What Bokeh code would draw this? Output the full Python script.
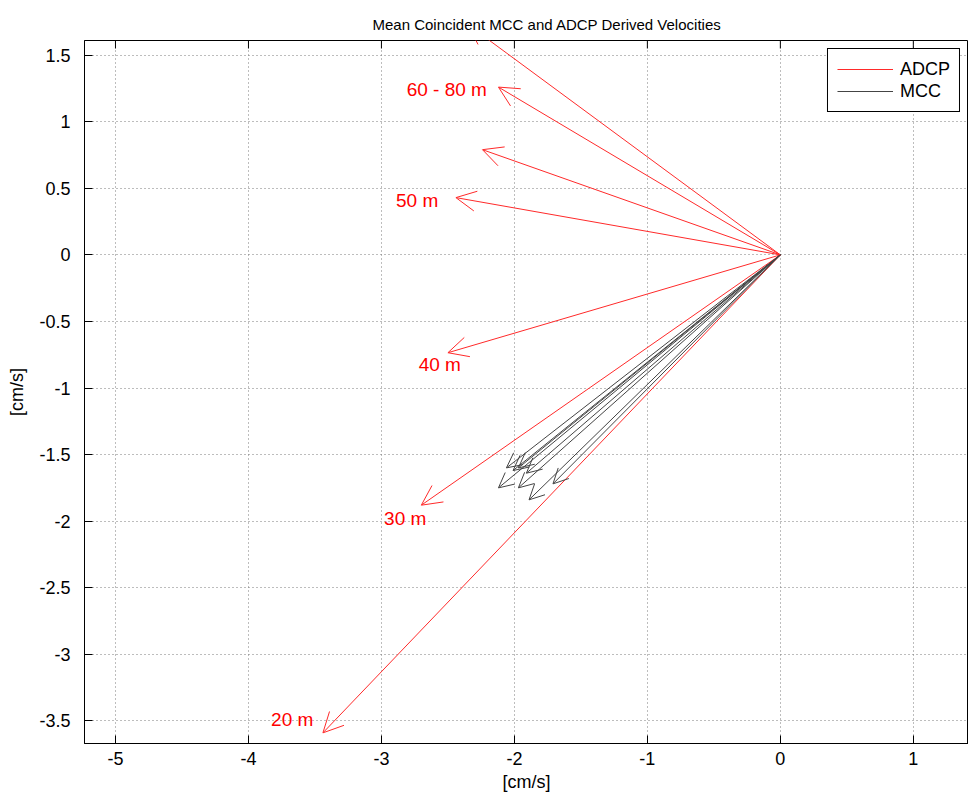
import numpy as np
from bokeh.plotting import figure
from bokeh.models import (Arrow, OpenHead, ColumnDataSource, Range1d, FixedTicker,
                          Legend, LegendItem, Title)
from bokeh.core.properties import value
from bokeh.embed import file_html
from bokeh.resources import INLINE

# ---------------- data ----------------
adcp_depth = ["20 m", "30 m", "40 m", "50 m", "60 m", "70 m", "80 m"]
adcp_u = [-3.44, -2.70, -2.50, -2.44, -2.24, -2.12, -2.35]
adcp_v = [-3.59, -1.88, -0.735, 0.43, 0.79, 1.26, 1.73]

mcc_u = [-2.06, -1.97, -1.91, -2.12, -1.97, -1.89, -1.71, -2.01]
mcc_v = [-1.60, -1.60, -1.64, -1.75, -1.75, -1.84, -1.72, -1.62]

label_text = ["20 m", "30 m", "40 m", "50 m", "60 - 80 m"]
label_x = [-3.83, -2.98, -2.72, -2.89, -2.81]
label_y = [-3.49, -1.98, -0.825, 0.41, 1.245]

x_ticks = [-5, -4, -3, -2, -1, 0, 1]
y_ticks = [-3.5, -3, -2.5, -2, -1.5, -1, -0.5, 0, 0.5, 1, 1.5]

x_lim = (-5.233, 1.415)
y_lim = (-3.67, 1.61)

FONT = "Liberation Sans"
RED = "#ff2a2a"

p = figure(width=968, height=794, output_backend="svg", toolbar_location=None,
           x_range=Range1d(*x_lim), y_range=Range1d(*y_lim),
           min_border_left=84, min_border_right=0, min_border_top=40, min_border_bottom=49)
p.title = Title(text="Mean Coincident MCC and ADCP Derived Velocities", align="left",
                offset=288, text_font=FONT, text_font_size="15px",
                text_font_style="normal", text_color="black",
                vertical_align="top", text_line_height=1.0, standoff=12)
p.background_fill_color = "white"
p.border_fill_color = "white"
p.outline_line_color = "black"
p.outline_line_width = 1

for ax, ticks in ((p.xaxis[0], x_ticks), (p.yaxis[0], y_ticks)):
    ax.ticker = FixedTicker(ticks=ticks)
    ax.major_label_overrides = {float(t): ("%g" % t) for t in ticks}
    ax.major_tick_in = 8
    ax.major_tick_out = 0
    ax.minor_tick_line_color = None
    ax.axis_line_color = "black"
    ax.major_tick_line_color = "black"
    ax.major_label_text_font = FONT
    ax.major_label_text_font_size = "18px"
    ax.major_label_text_color = "black"
    ax.axis_label = "[cm/s]"
    ax.axis_label_text_font = FONT
    ax.axis_label_text_font_size = "18px"
    ax.axis_label_text_font_style = "normal"
    ax.axis_label_text_color = "black"

p.xaxis[0].major_label_standoff = 8
p.xaxis[0].axis_label_standoff = 4
p.yaxis[0].major_label_standoff = 14
p.yaxis[0].axis_label_standoff = 9

for g, ticks in ((p.xgrid[0], x_ticks), (p.ygrid[0], y_ticks)):
    g.ticker = FixedTicker(ticks=ticks)
    g.grid_line_color = "#7a7a7a"
    g.grid_line_dash = "1 3"
    g.grid_line_alpha = 1.0

# inward tick marks on the top edge of the box
p.ray(x=x_ticks, y=[y_lim[1]] * len(x_ticks), length=8, length_units="screen",
      angle=-np.pi / 2, line_color="black", line_width=1)

# ---------------- arrows ----------------
asrc = ColumnDataSource(dict(x0=[0.0] * len(adcp_u), y0=[0.0] * len(adcp_u), u=adcp_u, v=adcp_v))
msrc = ColumnDataSource(dict(x0=[0.0] * len(mcc_u), y0=[0.0] * len(mcc_u), u=mcc_u, v=mcc_v))

p.add_layout(Arrow(end=OpenHead(size=20, line_color=RED, line_width=1),
                   x_start="x0", y_start="y0", x_end="u", y_end="v", source=asrc,
                   line_color=RED, line_width=1))
p.add_layout(Arrow(end=OpenHead(size=15, line_color="#444444", line_width=1),
                   x_start="x0", y_start="y0", x_end="u", y_end="v", source=msrc,
                   line_color="#444444", line_width=1))

# ---------------- labels ----------------
lsrc = ColumnDataSource(dict(x=label_x, y=label_y, t=label_text))
p.text(x="x", y="y", text="t", source=lsrc, text_color="red", text_font=value(FONT),
       text_font_size="19px", text_align="left", text_baseline="middle")

# ---------------- legend ----------------
r1 = p.line(x=[np.nan], y=[np.nan], line_color=RED, line_width=1)
r2 = p.line(x=[np.nan], y=[np.nan], line_color="#444444", line_width=1)
leg = Legend(items=[LegendItem(label="ADCP", renderers=[r1]),
                    LegendItem(label="MCC", renderers=[r2])],
             location="top_right", margin=8, padding=9, spacing=0,
             glyph_width=56, glyph_height=22, label_height=22, label_standoff=7,
             label_text_font=FONT, label_text_font_size="18px", label_text_color="black",
             border_line_color="black", border_line_width=1, border_line_alpha=1.0,
             background_fill_color="white", background_fill_alpha=1.0)
p.add_layout(leg)

open("out.html", "w").write(file_html(p, INLINE))
